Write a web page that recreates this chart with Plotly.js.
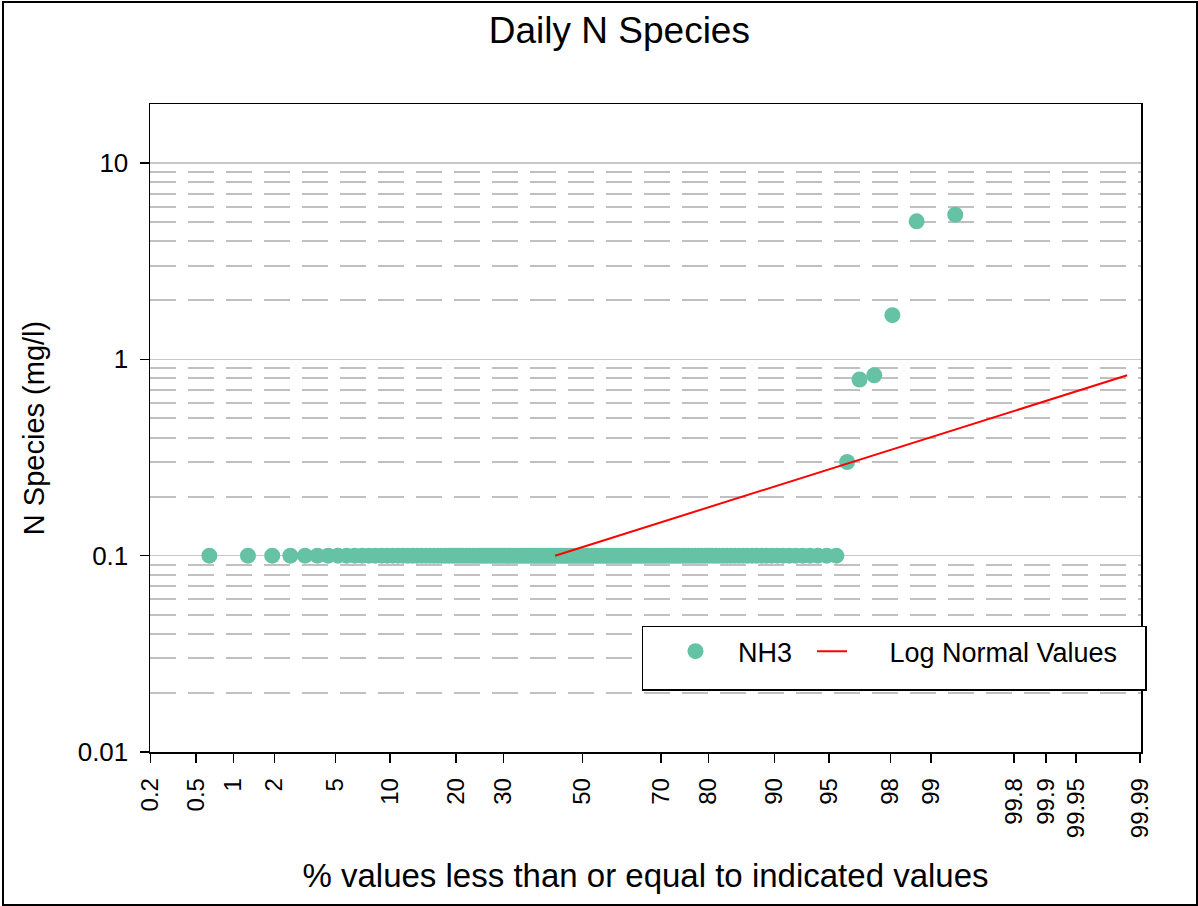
<!DOCTYPE html>
<html>
<head>
<meta charset="utf-8">
<script src="https://cdn.plot.ly/plotly-3.0.1.min.js"></script>
<style>
  html, body { margin: 0; padding: 0; background: #ffffff; }
  #chart { position: absolute; left: 0; top: 0; width: 1198px; height: 906px; }
  #frame { position: absolute; left: 2px; top: 1px; width: 1192px; height: 901px;
           border: 2px solid #000; pointer-events: none; }
</style>
</head>
<body>
<div id="chart"></div>
<div id="frame"></div>
<script>
// ---------------- data ----------------
// NH3 daily concentrations (mg/l), sorted ascending
const nh3Values = [
  0.1,0.1,0.1,0.1,0.1,0.1,0.1,0.1,0.1,0.1,0.1,0.1,0.1,0.1,0.1,0.1,0.1,0.1,0.1,0.1,
  0.1,0.1,0.1,0.1,0.1,0.1,0.1,0.1,0.1,0.1,0.1,0.1,0.1,0.1,0.1,0.1,0.1,0.1,0.1,0.1,
  0.1,0.1,0.1,0.1,0.1,0.1,0.1,0.1,0.1,0.1,0.1,0.1,0.1,0.1,0.1,0.1,0.1,0.1,0.1,0.1,
  0.1,0.1,0.1,0.1,0.1,0.1,0.1,0.1,0.1,0.1,0.1,0.1,0.1,0.1,0.1,0.1,0.1,0.1,0.1,0.1,
  0.1,0.1,0.1,0.1,0.1,0.1,0.1,0.1,0.1,0.1,0.1,0.1,0.1,0.1,0.1,0.1,0.1,0.1,0.1,0.1,
  0.1,0.1,0.1,0.1,0.1,0.1,0.1,0.1,0.1,0.1,0.1,0.1,0.1,0.1,0.1,0.1,0.1,0.1,0.1,0.1,
  0.1,0.1,0.1,0.1,0.1,0.1,0.1,0.1,0.1,0.1,0.1,0.1,0.1,0.1,0.1,0.1,0.1,0.1,0.1,0.1,
  0.1,0.1,0.1,0.1,0.1,0.1,0.1,0.1,
  0.3,0.79,0.83,1.68,5.05,5.46
];
// fitted log-normal line: end points (percent, value)
const lognormPct = [42.8, 99.986];
const lognormVals = [0.1, 0.83];

// probability-axis ticks
const xTickPct = [0.2,0.5,1,2,5,10,20,30,50,70,80,90,95,98,99,99.8,99.9,99.95,99.99];
const xTickText = ['0.2','0.5','1','2','5','10','20','30','50','70','80','90','95','98','99','99.8','99.9','99.95','99.99'];
// log y-axis ticks
const yTickVals = [0.01, 0.1, 1, 10];
const yTickText = ['0.01', '0.1', '1', '10'];
const yMinorVals = [0.02,0.03,0.04,0.05,0.06,0.07,0.08,0.09,
                    0.2,0.3,0.4,0.5,0.6,0.7,0.8,0.9,
                    2,3,4,5,6,7,8,9];

// ---------------- normal quantile (probit) ----------------
function probit(p) {
  const a=[-3.969683028665376e+01,2.209460984245205e+02,-2.759285104469687e+02,1.383577518672690e+02,-3.066479806614716e+01,2.506628277459239e+00];
  const b=[-5.447609879822406e+01,1.615858368580409e+02,-1.556989798598866e+02,6.680131188771972e+01,-1.328068155288572e+01];
  const c=[-7.784894002430293e-03,-3.223964580411365e-01,-2.400758277161838e+00,-2.549732539343734e+00,4.374664141464968e+00,2.938163982698783e+00];
  const d=[7.784695709041462e-03,3.224671290700398e-01,2.445134137142996e+00,3.754408661907416e+00];
  const pl = 0.02425, ph = 1 - pl;
  let q, r;
  if (p < pl) {
    q = Math.sqrt(-2*Math.log(p));
    return (((((c[0]*q+c[1])*q+c[2])*q+c[3])*q+c[4])*q+c[5])/((((d[0]*q+d[1])*q+d[2])*q+d[3])*q+1);
  }
  if (p <= ph) {
    q = p - 0.5; r = q*q;
    return (((((a[0]*r+a[1])*r+a[2])*r+a[3])*r+a[4])*r+a[5])*q/(((((b[0]*r+b[1])*r+b[2])*r+b[3])*r+b[4])*r+1);
  }
  q = Math.sqrt(-2*Math.log(1-p));
  return -(((((c[0]*q+c[1])*q+c[2])*q+c[3])*q+c[4])*q+c[5])/((((d[0]*q+d[1])*q+d[2])*q+d[3])*q+1);
}

// plotting positions i/(n+1)
const n = nh3Values.length;
const nh3X = nh3Values.map((v, i) => probit((i + 1) / (n + 1)));
const lognormX = lognormPct.map(p => probit(p / 100));
const xTickVals = xTickPct.map(p => probit(p / 100));

const FONT = 'Liberation Sans, Arial, Helvetica, sans-serif';
const NB = '\u00a0';

const traces = [
  {
    x: nh3X, y: nh3Values, name: NB + NB + NB + 'NH3' + NB + NB, type: 'scatter', mode: 'markers',
    marker: { color: '#66c2a5', size: 16, line: { width: 0 } },
    hovertemplate: '%{y}<extra>NH3</extra>'
  },
  {
    x: lognormX, y: lognormVals, name: NB + NB + NB + NB + NB + 'Log Normal Values' + NB + NB + NB,
    type: 'scatter', mode: 'lines',
    line: { color: '#ff0000', width: 2 }
  }
];

const layout = {
  width: 1198, height: 906,
  paper_bgcolor: '#ffffff', plot_bgcolor: '#ffffff',
  font: { family: FONT, color: '#000000' },
  margin: { l: 150, r: 57, t: 104, b: 154 },
  title: {
    text: 'Daily N Species',
    font: { size: 37, family: FONT, color: '#000' },
    xref: 'container', x: 0.517, xanchor: 'center',
    yref: 'container', y: 0.967, yanchor: 'middle'
  },
  xaxis: {
    range: [xTickVals[0] - 0.004, xTickVals[xTickVals.length - 1] + 0.006],
    tickmode: 'array', tickvals: xTickVals, ticktext: xTickText,
    tickangle: -90,
    tickfont: { size: 24, family: FONT },
    ticks: 'outside', ticklen: 9, tickwidth: 1.5, tickcolor: '#000',
    showline: true, linecolor: '#000', linewidth: 1.5, mirror: true,
    showgrid: false, zeroline: false,
    ticklabelstandoff: 6,
    title: { text: '% values less than or equal to indicated values',
             font: { size: 33, family: FONT }, standoff: 26 },
    automargin: false
  },
  yaxis: {
    type: 'log',
    range: [-2, 1.301],
    tickmode: 'array', tickvals: yTickVals, ticktext: yTickText,
    tickfont: { size: 26, family: FONT },
    ticks: 'outside', ticklen: 9, tickwidth: 1.5, tickcolor: '#000',
    showline: true, linecolor: '#000', linewidth: 1.5, mirror: true,
    showgrid: true, gridcolor: '#c8c8c8', gridwidth: 1.5,
    zeroline: false,
    ticklabelstandoff: 6,
    minor: {
      tickmode: 'array', tickvals: yMinorVals, ticks: '',
      showgrid: true, gridcolor: '#c0c0c0', gridwidth: 2, griddash: '26px,12px'
    },
    title: { text: 'N Species (mg/l)', font: { size: 29, family: FONT }, standoff: 24 },
    automargin: false
  },
  showlegend: true,
  legend: {
    orientation: 'h',
    x: 0.4962, xanchor: 'left',
    y: 0.195, yanchor: 'top',
    bgcolor: '#ffffff', bordercolor: '#000000', borderwidth: 1.5,
    font: { size: 27, family: FONT },
    title: { text: NB + NB, side: 'left', font: { size: 40, family: FONT } },
    itemwidth: 30
  }
};

Plotly.newPlot('chart', traces, layout, { displayModeBar: false, staticPlot: true });
</script>
</body>
</html>
